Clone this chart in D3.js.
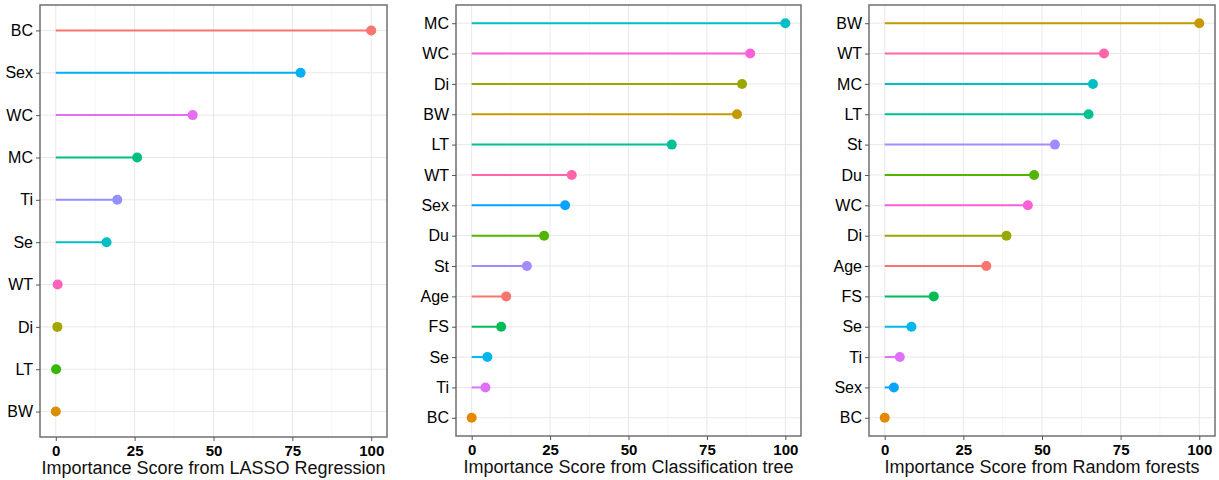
<!DOCTYPE html>
<html>
<head>
<meta charset="utf-8">
<script src="https://cdn.jsdelivr.net/npm/d3@7"></script>
<style>
  body { margin: 0; background: #fff; }
  text { font-family: "Liberation Sans", Arial, sans-serif; }
</style>
</head>
<body>
<svg id="chart" width="1219" height="480"></svg>
<script>
// all 14 variables, alphabetical (factor levels for colour)
const allVars = ["Age", "BC", "BW", "Di", "Du", "FS", "LT", "MC", "Se", "Sex", "St", "Ti", "WC", "WT"];

// LASSO regression (top to bottom)
const lassoVars = ["BC", "Sex", "WC", "MC", "Ti", "Se", "WT", "Di", "LT", "BW"];
const lassoScores = [100, 77.6, 43.4, 25.8, 19.5, 16.1, 0.6, 0.5, 0.1, 0];

// Classification tree
const treeVars = ["MC", "WC", "Di", "BW", "LT", "WT", "Sex", "Du", "St", "Age", "FS", "Se", "Ti", "BC"];
const treeScores = [100, 88.8, 86.2, 84.6, 63.8, 31.9, 29.8, 23.1, 17.6, 11.0, 9.4, 5.0, 4.4, 0];

// Random forests
const rfVars = ["BW", "WT", "MC", "LT", "St", "Du", "WC", "Di", "Age", "FS", "Se", "Ti", "Sex", "BC"];
const rfScores = [100, 69.7, 66.2, 64.8, 54.1, 47.5, 45.5, 38.7, 32.3, 15.6, 8.5, 4.8, 2.9, 0];

const xTicks = [0, 25, 50, 75, 100];
const xMinor = [12.5, 37.5, 62.5, 87.5];

// ggplot default hue palettes
const pal10 = ["#F8766D", "#D89000", "#A3A500", "#39B600", "#00BF7D", "#00BFC4", "#00B0F6", "#9590FF", "#E76BF3", "#FF62BC"];
const pal14 = ["#F8766D", "#E38900", "#C49A00", "#99A800", "#53B400", "#00BC56", "#00C094", "#00BFC4",
               "#00B6EB", "#06A4FF", "#A58AFF", "#DF70F8", "#FB61D7", "#FF66A8"];

const svg = d3.select("#chart");

const panels = [
    { vars: lassoVars, scores: lassoScores, levels: lassoVars.slice().sort(), pal: pal10,
      title: "Importance Score from LASSO Regression", left: 40, right: 387, top: 5, bottom: 437 },
    { vars: treeVars, scores: treeScores, levels: allVars, pal: pal14,
      title: "Importance Score from Classification tree", left: 456, right: 801, top: 5, bottom: 436 },
    { vars: rfVars, scores: rfScores, levels: allVars, pal: pal14,
      title: "Importance Score from Random forests", left: 869, right: 1215, top: 5, bottom: 436 }
];

panels.forEach(p => {
    const color = d3.scaleOrdinal().domain(p.levels).range(p.pal);
    const w = p.right - p.left, h = p.bottom - p.top;
    const g = svg.append("g").attr("transform", `translate(${p.left},${p.top})`);

    const x = d3.scaleLinear().domain([-5, 105]).range([0, w]);
    const y = d3.scalePoint().domain(p.vars).range([0, h]).padding(0.6);

    // grid
    g.selectAll(".minor").data(xMinor).enter().append("line")
        .attr("x1", d => x(d)).attr("x2", d => x(d))
        .attr("y1", 0).attr("y2", h)
        .attr("stroke", "#f3f3f3").attr("stroke-width", 0.8);
    g.selectAll(".major").data(xTicks).enter().append("line")
        .attr("x1", d => x(d)).attr("x2", d => x(d))
        .attr("y1", 0).attr("y2", h)
        .attr("stroke", "#e8e8e8").attr("stroke-width", 1);
    g.selectAll(".hgrid").data(p.vars).enter().append("line")
        .attr("x1", 0).attr("x2", w)
        .attr("y1", d => y(d)).attr("y2", d => y(d))
        .attr("stroke", "#e8e8e8").attr("stroke-width", 1);

    const data = p.vars.map((v, i) => ({ v, s: p.scores[i] }));

    g.selectAll(".seg").data(data).enter().append("line")
        .attr("x1", x(0)).attr("x2", d => x(d.s))
        .attr("y1", d => y(d.v)).attr("y2", d => y(d.v))
        .attr("stroke", d => color(d.v)).attr("stroke-width", 2);

    g.selectAll(".pt").data(data).enter().append("circle")
        .attr("cx", d => x(d.s)).attr("cy", d => y(d.v)).attr("r", 5)
        .attr("fill", d => color(d.v));

    // border
    g.append("rect").attr("width", w).attr("height", h)
        .attr("fill", "none").attr("stroke", "#707070").attr("stroke-width", 1.5);

    // axes
    const yAxis = g.append("g")
        .call(d3.axisLeft(y).tickSize(4).tickPadding(3));
    const xAxis = g.append("g").attr("transform", `translate(0,${h})`)
        .call(d3.axisBottom(x).tickValues(xTicks).tickSize(4).tickPadding(4));
    [yAxis, xAxis].forEach(a => {
        a.select(".domain").remove();
        a.selectAll(".tick line").attr("stroke", "#555");
        a.selectAll("text").attr("fill", "#000")
            .style("font-family", "'Liberation Sans', Arial, sans-serif");
    });
    yAxis.selectAll("text").style("font-size", "16px");
    xAxis.selectAll("text").style("font-size", "15px").style("font-weight", "bold");

    g.append("text")
        .attr("x", w / 2).attr("y", h + 37)
        .attr("text-anchor", "middle")
        .style("font-size", "18px")
        .attr("fill", "#111")
        .text(p.title);
});
</script>
</body>
</html>
